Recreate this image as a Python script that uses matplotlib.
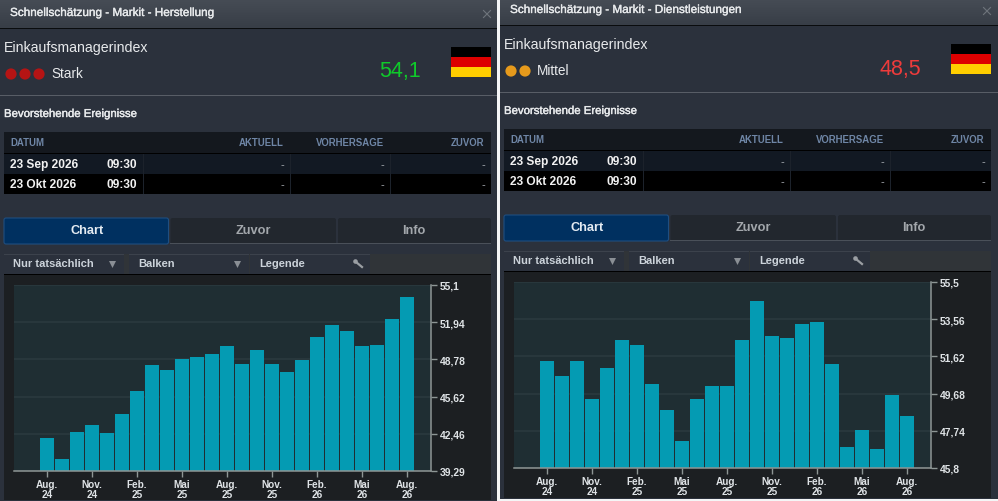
import numpy as np
import matplotlib
matplotlib.use('Agg')
import matplotlib.pyplot as plt
from matplotlib.patches import Rectangle, Circle, FancyBboxPatch
from matplotlib import patheffects

plt.rcParams['font.family'] = ['Liberation Sans', 'DejaVu Sans']

months = ['Aug.\n24', 'Nov.\n24', 'Feb.\n25', 'Mai\n25', 'Aug.\n25', 'Nov.\n25', 'Feb.\n26', 'Mai\n26', 'Aug.\n26']

mfg_values = [42.1, 40.3, 42.6, 43.2, 42.5, 44.1, 46.1, 48.3, 47.9, 48.8, 49.0, 49.2, 49.9,
              48.4, 49.6, 48.4, 47.7, 48.7, 50.7, 51.7, 51.2, 49.9, 50.0, 52.2, 54.1]
mfg_ticks = [39.29, 42.46, 45.62, 48.78, 51.94, 55.1]
mfg_ticklabels = ['39,29', '42,46', '45,62', '48,78', '51,94', '55,1']

svc_values = [51.4, 50.6, 51.4, 49.4, 51.0, 52.5, 52.2, 50.2, 48.8, 47.2, 49.4, 50.1, 50.1,
              52.5, 54.5, 52.7, 52.6, 53.3, 53.4, 51.2, 46.9, 47.8, 46.8, 49.6, 48.5]
svc_ticks = [45.8, 47.74, 49.68, 51.62, 53.56, 55.5]
svc_ticklabels = ['45,8', '47,74', '49,68', '51,62', '53,56', '55,5']

W, H = 998, 502
fig = plt.figure(figsize=(W / 100, H / 100), dpi=100, facecolor='#f4f5f6')
bg = fig.add_axes([0, 0, 1, 1])
bg.set_xlim(0, W)
bg.set_ylim(H, 0)
bg.axis('off')


def rect(x0, y0, x1, y1, color, z=1):
    bg.add_patch(Rectangle((x0, y0), x1 - x0, y1 - y0, fc=color, ec='none', zorder=z))


def txt(x, y, s, size, color='#e8eaec', weight='normal', ha='left', stroke=0):
    t = bg.text(x, y + 1, s, fontsize=size, color=color, fontweight=weight, ha=ha, va='center', zorder=5)
    if stroke:
        t.set_path_effects([patheffects.withStroke(linewidth=stroke, foreground=color)])


def panel(dx, dy, x_end, y_end, title, score, score_color, dots, dot_color, rating, rating_x,
          values, ticks, ticklabels):
    rect(dx, 0, x_end, y_end, '#2b313c')

    # header, slight gradient
    bg.imshow(np.linspace(0, 1, 30).reshape(-1, 1), cmap=matplotlib.colors.LinearSegmentedColormap.from_list(
        'hdr', ['#464c55', '#383e47']), extent=(dx, x_end, 29 + dy, 0), aspect='auto', zorder=2)
    rect(dx, 28.5 + dy, x_end, 29.8 + dy, '#0a0c0e', 3)
    txt(dx + 10, 13 + dy, title, 8.45, stroke=0.25)
    bg.plot([dx + 483.5, dx + 490.5], [11.5 + dy, 18.5 + dy], color='#6f757c', lw=0.8, zorder=4)
    bg.plot([dx + 483.5, dx + 490.5], [18.5 + dy, 11.5 + dy], color='#6f757c', lw=0.8, zorder=4)

    txt(dx + 4, 47 + dy, 'Einkaufsmanagerindex', 10.15)
    for i in range(dots):
        bg.add_patch(Circle((dx + 11 + 14 * i, 75 + dy), 5.6, fc=dot_color, ec='none', zorder=4))
    txt(dx + rating_x, 73 + dy, rating, 9.8)
    txt(dx + 421, 71 + dy, score, 15.5, score_color, ha='right')
    rect(dx + 451, 48 + dy, dx + 491, 58 + dy, '#000000', 4)
    rect(dx + 451, 58 + dy, dx + 491, 68 + dy, '#dd0000', 4)
    rect(dx + 451, 68 + dy, dx + 491, 78 + dy, '#ffce00', 4)
    rect(dx, 96 + dy, x_end, 97 + dy, '#585d66', 3)

    txt(dx + 4, 114 + dy, 'Bevorstehende Ereignisse', 8.2, stroke=0.3)

    # events table
    rect(dx + 4, 133 + dy, dx + 491, 154 + dy, '#14181e', 3)
    rect(dx + 4, 154 + dy, dx + 491, 155 + dy, '#000000', 3)
    rect(dx + 4, 155 + dy, dx + 491, 175 + dy, '#121923', 3)
    rect(dx + 4, 175 + dy, dx + 491, 195 + dy, '#000000', 3)
    for vx in (143.5, 290.5, 390.5):
        rect(dx + vx, 155 + dy, dx + vx + 0.8, 195 + dy, '#1c222b', 4)
    txt(dx + 10, 142.5 + dy, 'DATUM', 6.9, '#6f86a6', 'bold')
    txt(dx + 284, 142.5 + dy, 'AKTUELL', 6.9, '#6f86a6', 'bold', 'right')
    txt(dx + 384, 142.5 + dy, 'VORHERSAGE', 6.9, '#6f86a6', 'bold', 'right')
    txt(dx + 484, 142.5 + dy, 'ZUVOR', 6.9, '#6f86a6', 'bold', 'right')
    for y, day in ((164, '23 Sep 2026'), (184, '23 Okt 2026')):
        txt(dx + 10, y + dy, day, 8.6, '#f2f2f2', 'bold')
        txt(dx + 137, y + dy, '09:30', 8.6, '#f2f2f2', 'bold', 'right')
        for vx in (284, 384, 485):
            txt(dx + vx, y + dy, '-', 8, '#a8adb3', ha='right')

    # tabs
    for x0, x1, c in ((4, 168.5, '#003060'), (170.5, 336, '#22272e'), (338, 491, '#22272e')):
        bg.add_patch(FancyBboxPatch((dx + x0 + 1, 219 + dy + 1), x1 - x0 - 2, 25 - 1, boxstyle='round,pad=1,rounding_size=2',
                                    fc=c, ec='#1f4e80' if x0 == 4 else 'none', lw=0.8, zorder=3))
    rect(dx + 170, 244 + dy, dx + 491, 245 + dy, '#4a5059', 4)
    txt(dx + 87, 230 + dy, 'Chart', 9.2, '#e4ebf2', 'bold', 'center')
    txt(dx + 253, 230 + dy, 'Zuvor', 9.2, '#a3a7ac', 'bold', 'center')
    txt(dx + 414, 230 + dy, 'Info', 9.2, '#a3a7ac', 'bold', 'center')

    # toolbar
    rect(dx + 4, 255 + dy, dx + 491, 275 + dy, '#303438', 3)
    for x0, x1 in ((4, 124), (129, 249), (250, 370)):
        rect(dx + x0, 255 + dy, dx + x1, 275 + dy, '#2b313c', 3)
        rect(dx + x0, 255 + dy, dx + x1, 256 + dy, '#3c424c', 4)
    txt(dx + 13, 263.5 + dy, 'Nur tatsächlich', 8.0, '#ccd3da', 'bold')
    txt(dx + 138, 263.5 + dy, 'Balken', 8.0, '#ccd3da', 'bold')
    txt(dx + 259, 263.5 + dy, 'Legende', 8.0, '#ccd3da', 'bold')
    for ax_x in (112.5, 237.5):
        bg.add_patch(plt.Polygon([(dx + ax_x - 3.5, 262 + dy), (dx + ax_x + 3.5, 262 + dy), (dx + ax_x, 269 + dy)],
                                 fc='#8a8f95', ec='none', zorder=5))
    # wrench icon
    bg.plot([dx + 356, dx + 362], [263 + dy, 268 + dy], color='#9a9ea3', lw=1.6, zorder=5)
    bg.add_patch(Circle((dx + 355.5, 262.5 + dy), 2.3, fc='#9a9ea3', ec='none', zorder=5))

    # chart area
    rect(dx + 4, 275 + dy, dx + 491, y_end - 1, '#1c1f22', 3)
    rect(dx + 4, 275 + dy, dx + 491, 276 + dy, '#000000', 4)

    left, right = dx + 14, dx + 431
    top, bottom = 286 + dy, 472 + dy
    ax = fig.add_axes([left / W, 1 - bottom / H, (right - left) / W, (bottom - top) / H], facecolor='#1f2e33')
    x = np.arange(len(values))
    ax.set_axisbelow(True)
    ax.bar(x, values, width=0.94, color='#049bb3', bottom=0, zorder=2)
    ax.set_xlim(-2.2, 25.6)
    ax.set_ylim(ticks[0], ticks[-1])
    ax.yaxis.tick_right()
    ax.set_yticks(ticks)
    ax.set_yticklabels(ticklabels)
    ax.set_xticks(x[::3])
    ax.set_xticklabels(months)
    ax.grid(axis='y', color='#2a3a3e', lw=1.2)
    for s in ('top', 'left'):
        ax.spines[s].set_visible(False)
    for s in ('right', 'bottom'):
        ax.spines[s].set_color('#8e9695')
        ax.spines[s].set_linewidth(1.1)
    ax.tick_params(axis='y', length=4, width=1, color='#8e9695', labelcolor='#dfe3e6', labelsize=7.4, pad=2.5)
    ax.tick_params(axis='x', length=4, width=1, color='#8e9695', labelcolor='#dfe3e6', labelsize=7.2, pad=2)
    for lab in ax.get_xticklabels() + ax.get_yticklabels():
        lab.set_fontweight('bold')
        lab.set_linespacing(0.95)


panel(0, 0, 497, 502, 'Schnellschätzung - Markit - Herstellung', '54,1', '#0fca2a', 3, '#b51414', 'Stark', 51,
      mfg_values, mfg_ticks, mfg_ticklabels)
panel(500, -3, 998, 500, 'Schnellschätzung - Markit - Dienstleistungen', '48,5', '#ee3b3b', 2, '#e69a1c', 'Mittel', 37,
      svc_values, svc_ticks, svc_ticklabels)

bg.set_xlim(0, W)
bg.set_ylim(H, 0)
fig.savefig('out.png', dpi=100, facecolor=fig.get_facecolor())
